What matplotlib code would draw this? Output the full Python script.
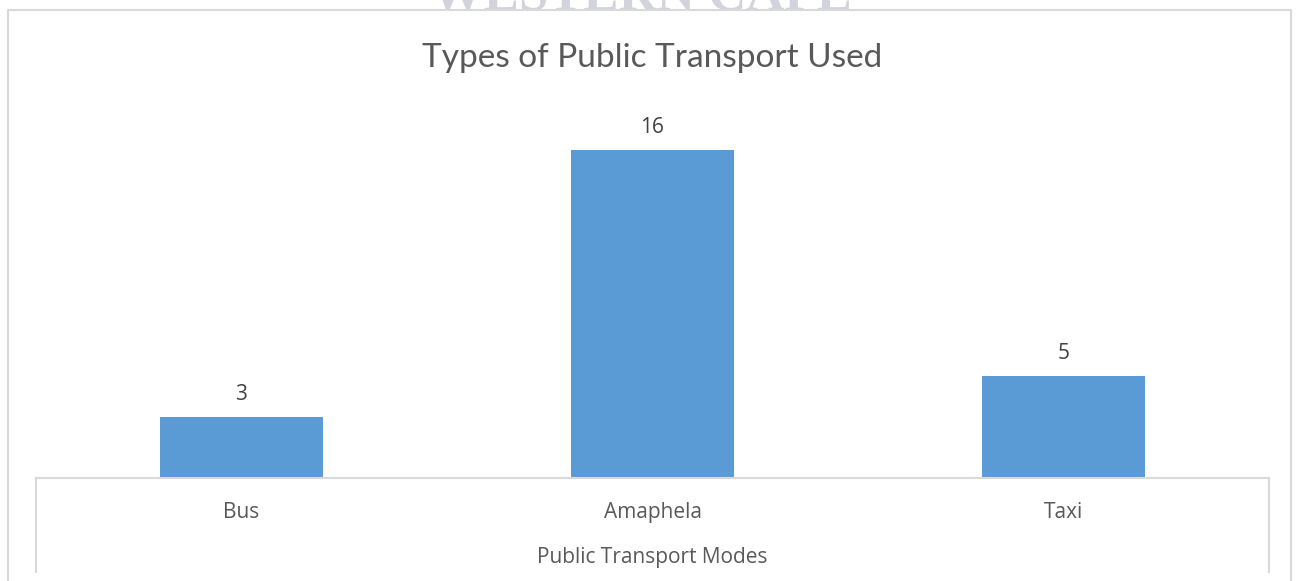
import matplotlib
matplotlib.use("Agg")
import matplotlib.pyplot as plt
from matplotlib.lines import Line2D

categories = ["Bus", "Amaphela", "Taxi"]
values = [3, 16, 5]
title = "Types of Public Transport Used"
xlabel = "Public Transport Modes"
watermark = "WESTERN CAPE"

W, H = 1299, 581
fig = plt.figure(figsize=(W / 100, H / 100), dpi=100)
fig.patch.set_facecolor("white")

def fx(px):
    return px / W

def fy(py):
    return 1 - py / H

font = ["Open Sans", "DejaVu Sans"]
tfont = ["Lato", "DejaVu Sans"]
txt = "#595959"
grid = "#D9D9D9"

# watermark (cut off at top, as in the reference)
fig.text(fx(641), fy(9), watermark, ha="center", va="baseline",
         family=["Liberation Serif", "DejaVu Serif"], fontsize=38,
         color="#D2D3DC", fontweight="bold", zorder=0)
# white band to hide watermark below the chart border
fig.add_artist(plt.Rectangle((0, 0), 1, fy(10), color="white",
                             transform=fig.transFigure, zorder=0.5))

# outer chart border
fig.add_artist(Line2D([fx(8), fx(8), fx(1291), fx(1291)],
                      [0, fy(10), fy(10), 0], color=grid, lw=1.5,
                      transform=fig.transFigure, zorder=1))

ax = fig.add_axes([fx(36), fy(478), fx(1269) - fx(36), fy(109) - fy(478)])
ax.set_zorder(2)
ax.set_xlim(-0.5, len(categories) - 0.5)
ax.set_ylim(0, 18)
x = range(len(categories))
bars = ax.bar(x, values, width=0.397, color="#5B9BD5", zorder=2)
for b, v in zip(bars, values):
    ax.annotate(str(v), (b.get_x() + b.get_width() / 2, v),
                xytext=(0, 8.5), textcoords="offset points",
                ha="center", va="bottom", fontsize=15, color="#404040",
                family=font)

for s in ["top", "right", "left"]:
    ax.spines[s].set_visible(False)
ax.spines["bottom"].set_color(grid)
ax.spines["bottom"].set_linewidth(1.5)
ax.set_yticks([])
ax.set_xticks(list(x))
ax.set_xticklabels(categories, fontsize=15, color=txt, family=font)
ax.tick_params(axis="x", length=0, pad=17)
ax.patch.set_alpha(0)

# category axis box verticals
for px in (36, 1269):
    fig.add_artist(Line2D([fx(px), fx(px)], [fy(478), fy(572)], color=grid,
                          lw=1.5, transform=fig.transFigure, zorder=1))

fig.text(fx(652.5), fy(557), xlabel, ha="center", va="center", fontsize=15,
         color=txt, family=font)
fig.text(fx(652.5), fy(58), title, ha="center", va="center", fontsize=24,
         color=txt, family=tfont)

fig.savefig("out.png", dpi=100)
